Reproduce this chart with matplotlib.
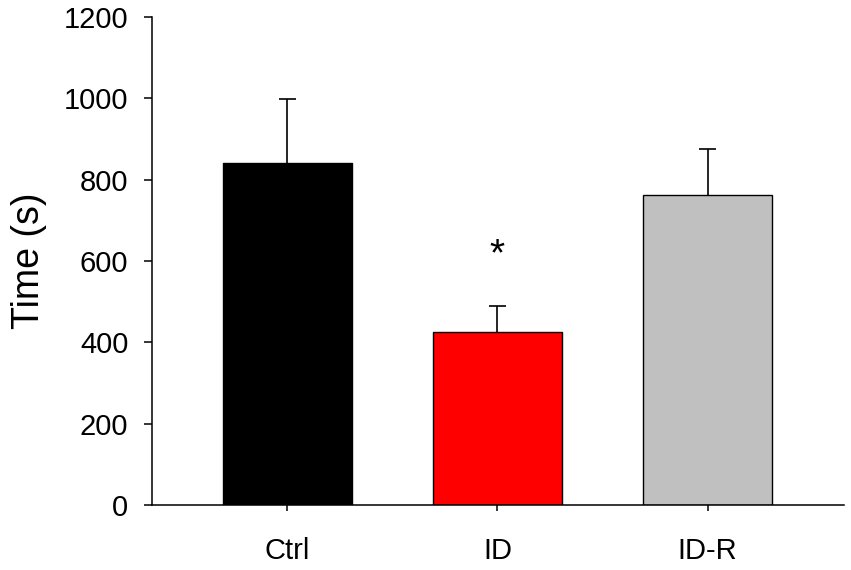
import numpy as np
import matplotlib.pyplot as plt

plt.rcParams['font.family'] = ['Liberation Sans', 'DejaVu Sans']

# data
groups = ['Ctrl', 'ID', 'ID-R']
means = [840, 425, 762]
errors = [158, 65, 114]
colors = ['#000000', '#ff0000', '#c0c0c0']
sig_marks = ['', '*', '']
sig_heights = [0, 625, 0]

fig = plt.figure(figsize=(8.51, 5.70), dpi=100)
ax = fig.add_axes([0.1786, 0.114, 0.8132, 0.856])

x = np.arange(len(groups))
bar_w = 0.61
ax.bar(x, means, width=bar_w, color=colors, edgecolor='black', linewidth=1.0, zorder=2)

# upper error bars only, cap on top
tops = np.array(means) + np.array(errors)
ax.vlines(x, means, tops, colors='black', linewidth=1.2, zorder=1)
ax.hlines(tops, x - 0.04, x + 0.04, colors='black', linewidth=1.2, zorder=1)

for xi, mark, h in zip(x, sig_marks, sig_heights):
    if mark:
        ax.text(xi, h, mark, ha='center', va='center_baseline', fontsize=28)

ax.set_xlim(-0.645, 2.65)
ax.set_ylim(0, 1200)
ax.set_yticks(np.arange(0, 1201, 200))
ax.set_xticks(x)
ax.set_xticklabels(groups)

ax.spines['top'].set_visible(False)
ax.spines['right'].set_visible(False)
for s in ['left', 'bottom']:
    ax.spines[s].set_linewidth(1.1)

ax.tick_params(axis='y', direction='out', length=6, width=1.1, pad=11, labelsize=21)
ax.tick_params(axis='x', direction='out', length=4, width=1.1, pad=19, labelsize=21)
ax.set_ylabel('Time (s)', fontsize=27, labelpad=12)

fig.savefig('out.png', dpi=100)
